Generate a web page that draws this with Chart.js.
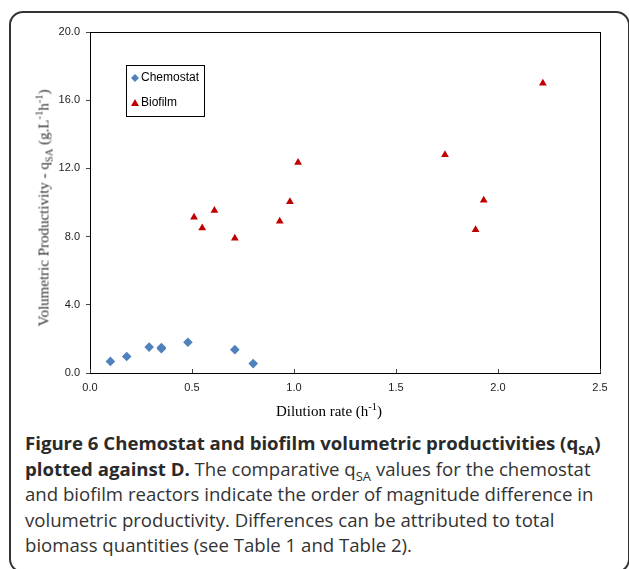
<!DOCTYPE html>
<html>
<head>
<meta charset="utf-8">
<script src="https://cdn.jsdelivr.net/npm/chart.js@4"></script>
<style>
body { margin: 0; background: #fff; }
#wrap { position: relative; width: 629px; height: 569px; overflow: hidden; background: #fff; }
#frame { position: absolute; left: 9px; top: 11px; width: 617px; height: 558px; border: 2px solid #333; border-radius: 14px; }
#chart { position: absolute; left: 0; top: 0; }
.axt { position: absolute; font-family: "Liberation Serif", "Times New Roman", serif; font-size: 15px; color: #000; white-space: nowrap; }
.axt sub, .axt sup { font-size: 70%; line-height: 0; }
#ytitle { left: 44px; top: 208px; color: #333; transform: translate(-50%, -50%) rotate(-90deg); }
#xtitle { left: 329px; top: 411px; transform: translate(-50%, -50%); }
#caption { position: absolute; left: 25px; top: 430px; font-family: "Open Sans", sans-serif; font-size: 18.6px; line-height: 25.5px; color: #333; white-space: nowrap; }
#caption b { font-weight: 700; color: #2a2a2a; }
#caption sub { font-size: 70%; line-height: 0; }
</style>
</head>
<body>
<div id="wrap">
<div id="frame"></div>
<canvas id="chart" width="629" height="420"></canvas>
<div class="axt" id="ytitle">Volumetric Productivity <b>-</b> q<sub>SA</sub> (g.L<sup>-1</sup>h<sup>-1</sup>)</div>
<div class="axt" id="xtitle">Dilution rate (h<sup>-1</sup>)</div>
<div id="caption"><b>Figure 6 Chemostat and biofilm volumetric productivities (q<sub>SA</sub>)<br>plotted against D.</b> The comparative q<sub>SA</sub> values for the chemostat<br>and biofilm reactors indicate the order of magnitude difference in<br>volumetric productivity. Differences can be attributed to total<br>biomass quantities (see Table 1 and Table 2).</div>
</div>
<script>
// dilution rate (1/h) and q_SA (g/L/h)
var chemostatD = [0.10, 0.18, 0.29, 0.35, 0.35, 0.48, 0.71, 0.80];
var chemostatQ = [0.68, 0.97, 1.52, 1.50, 1.42, 1.80, 1.37, 0.55];
var biofilmD = [0.51, 0.55, 0.61, 0.71, 0.93, 0.98, 1.02, 1.74, 1.89, 1.93, 2.22];
var biofilmQ = [9.13, 8.50, 9.53, 7.90, 8.90, 10.05, 12.35, 12.80, 8.40, 10.13, 17.00];

var xTicks = [0, 0.5, 1.0, 1.5, 2.0, 2.5];
var yTicks = [0, 4, 8, 12, 16, 20];

var blue = "#4f81bd";
var red = "#c00000";

function toPoints(xs, ys) {
	var pts = [];
	for (var i = 0; i < xs.length; i++) {
		pts.push({ x: xs[i], y: ys[i] });
	}
	return pts;
}

// box round the plot, inward ticks on x, and the small legend
var extras = {
	id: "extras",
	afterDraw: function(chart) {
		var ctx = chart.ctx;
		var a = chart.chartArea;
		var xs = chart.scales.x;
		ctx.save();
		ctx.strokeStyle = "#000";
		ctx.lineWidth = 1;
		ctx.strokeRect(Math.round(a.left) + 0.5, Math.round(a.top) + 0.5, Math.round(a.right - a.left), Math.round(a.bottom - a.top));
		ctx.strokeStyle = "#444";
		for (const v of xTicks) {
			var px = Math.round(xs.getPixelForValue(v)) + 0.5;
			ctx.beginPath();
			ctx.moveTo(px, a.bottom);
			ctx.lineTo(px, a.bottom - 4);
			ctx.stroke();
		}

		// legend
		ctx.strokeStyle = "#000";
		ctx.strokeRect(126.5, 65.5, 78, 51);
		ctx.fillStyle = blue;
		ctx.beginPath();
		ctx.moveTo(131, 78);
		ctx.lineTo(135, 74);
		ctx.lineTo(139, 78);
		ctx.lineTo(135, 82);
		ctx.closePath();
		ctx.fill();
		ctx.fillStyle = red;
		ctx.beginPath();
		ctx.moveTo(135, 99);
		ctx.lineTo(139, 106);
		ctx.lineTo(131, 106);
		ctx.closePath();
		ctx.fill();
		ctx.fillStyle = "#000";
		ctx.font = "12px 'Liberation Sans', Arial, sans-serif";
		ctx.textBaseline = "middle";
		ctx.fillText("Chemostat", 141, 78);
		ctx.fillText("Biofilm", 141, 103);
		ctx.restore();
	}
};

var tickFont = { family: "'Liberation Sans', Arial, sans-serif", size: 11 };

new Chart(document.getElementById("chart"), {
	type: "scatter",
	data: {
		datasets: [
			{
				label: "Chemostat",
				data: toPoints(chemostatD, chemostatQ),
				pointStyle: "rectRot",
				pointRadius: 4.8,
				pointHoverRadius: 4.8,
				backgroundColor: blue,
				borderColor: blue,
				borderWidth: 0
			},
			{
				label: "Biofilm",
				data: toPoints(biofilmD, biofilmQ),
				pointStyle: "triangle",
				pointRadius: 4.5,
				pointHoverRadius: 4.5,
				backgroundColor: red,
				borderColor: red,
				borderWidth: 0
			}
		]
	},
	options: {
		responsive: false,
		animation: false,
		events: [],
		layout: { padding: { left: 0, right: 29, top: 32, bottom: 0 } },
		plugins: {
			legend: { display: false },
			tooltip: { enabled: false }
		},
		scales: {
			x: {
				type: "linear",
				min: 0,
				max: 2.5,
				afterFit: function(s) { s.height = 47; },
				afterBuildTicks: function(s) { s.ticks = xTicks.map(function(v) { return { value: v }; }); },
				grid: { display: false, drawTicks: false },
				border: { display: true, color: "#000", width: 1 },
				ticks: {
					padding: 8,
					color: "#222",
					font: tickFont,
					callback: function(v) { return Number(v).toFixed(1); }
				}
			},
			y: {
				type: "linear",
				min: 0,
				max: 20,
				afterFit: function(s) { s.width = 90; },
				afterBuildTicks: function(s) { s.ticks = yTicks.map(function(v) { return { value: v }; }); },
				grid: { display: true, drawOnChartArea: false, drawTicks: true, tickLength: 4, color: "#444" },
				border: { display: true, color: "#000", width: 1 },
				ticks: {
					padding: 6,
					color: "#222",
					font: tickFont,
					callback: function(v) { return Number(v).toFixed(1); }
				}
			}
		}
	},
	plugins: [extras]
});
</script>
</body>
</html>
